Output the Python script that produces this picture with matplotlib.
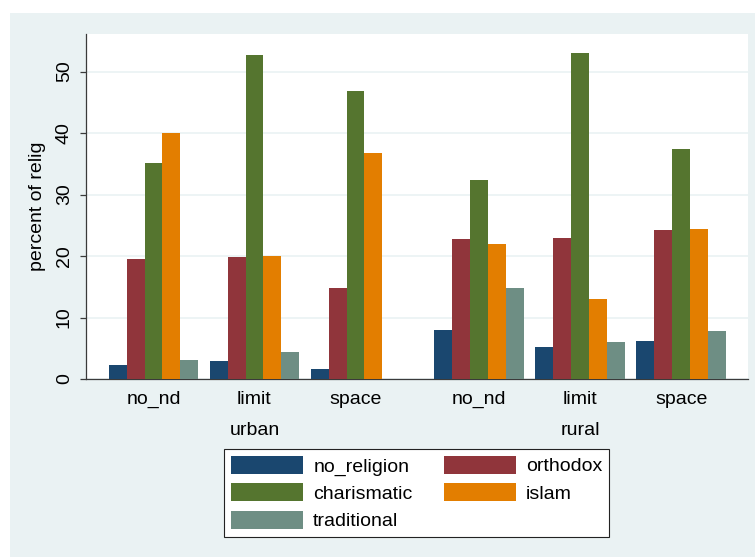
import numpy as np
import matplotlib.pyplot as plt
from matplotlib.patches import Rectangle

plt.rcParams['font.family'] = ['Liberation Sans', 'DejaVu Sans']

areas = ['urban', 'rural']
groups = ['no_nd', 'limit', 'space']
series = ['no_religion', 'orthodox', 'charismatic', 'islam', 'traditional']

# percent of relig, order: urban no_nd/limit/space, rural no_nd/limit/space
no_religion = [2.3, 3.0, 1.6, 8.0, 5.2, 6.1]
orthodox = [19.5, 19.8, 14.8, 22.8, 22.9, 24.3]
charismatic = [35.1, 52.7, 46.9, 32.4, 53.0, 37.4]
islam = [40.0, 20.0, 36.8, 22.0, 13.0, 24.4]
traditional = [3.1, 4.4, 0.0, 14.8, 6.0, 7.8]

values = [no_religion, orthodox, charismatic, islam, traditional]
colors = ['#1a476f', '#90353b', '#55752f', '#e37e00', '#6e8e84']
bg = '#eaf2f3'
fs = 14

fig = plt.figure(figsize=(7.55, 5.57), dpi=100, facecolor='white')
fig.patches.append(Rectangle((10 / 755, 0), 745 / 755, 544 / 557,
                             transform=fig.transFigure, facecolor=bg,
                             edgecolor='none', zorder=-10))

ax = fig.add_axes([86 / 755, 178 / 557, 662 / 755, 345 / 557])
ax.set_facecolor('white')

bar_w = 1.0
group_gap = 0.64
area_gap = 1.91
group_pitch = len(series) * bar_w + group_gap
area_pitch = len(groups) * group_pitch - group_gap + area_gap

starts = []
for a in range(len(areas)):
    for g in range(len(groups)):
        starts.append(a * area_pitch + g * group_pitch)
starts = np.array(starts)

handles = []
for i, (name, vals) in enumerate(zip(series, values)):
    h = ax.bar(starts + i * bar_w, vals, width=bar_w, align='edge',
               color=colors[i], label=name, zorder=3, linewidth=0)
    handles.append(h)

ax.set_xlim(-1.27, 35.7)
ax.set_ylim(0, 56.1)
ax.set_yticks([0, 10, 20, 30, 40, 50])
ax.grid(axis='y', color=bg, linewidth=1.2, zorder=0)
ax.set_axisbelow(True)

centers = starts + len(series) * bar_w / 2
ax.set_xticks(centers)
ax.set_xticklabels(groups * len(areas), fontsize=fs)
ax.tick_params(axis='x', length=0, pad=8.5)
ax.tick_params(axis='y', length=4.5, width=0.9, color='#3a3a3a', pad=5,
               labelsize=fs, labelrotation=90)
for lab in ax.get_yticklabels():
    lab.set_va('center')

for s in ['top', 'right']:
    ax.spines[s].set_visible(False)
for s in ['left', 'bottom']:
    ax.spines[s].set_color('#3a3a3a')
    ax.spines[s].set_linewidth(0.9)

# area labels under the group labels
for a, area in enumerate(areas):
    c = centers[a * len(groups):(a + 1) * len(groups)].mean()
    ax.text(c, -0.148, area, transform=ax.get_xaxis_transform(),
            ha='center', va='center', fontsize=fs)

ax.set_ylabel('percent of relig', fontsize=fs, labelpad=7)

# legend filled row by row: matplotlib fills columns first
order = [0, 2, 4, 1, 3]
leg = fig.legend([handles[k] for k in order], [series[k] for k in order],
                 loc='center', bbox_to_anchor=(416.5 / 755, 1 - 493 / 557),
                 ncol=2, fontsize=fs, frameon=True, fancybox=False,
                 edgecolor='#222222', facecolor='white', framealpha=1,
                 handlelength=3.7, handleheight=1.05, handletextpad=0.55,
                 columnspacing=1.6, labelspacing=0.39, borderpad=0.33)
leg.get_frame().set_linewidth(0.8)

plt.savefig('out.png', dpi=100, facecolor=fig.get_facecolor())
